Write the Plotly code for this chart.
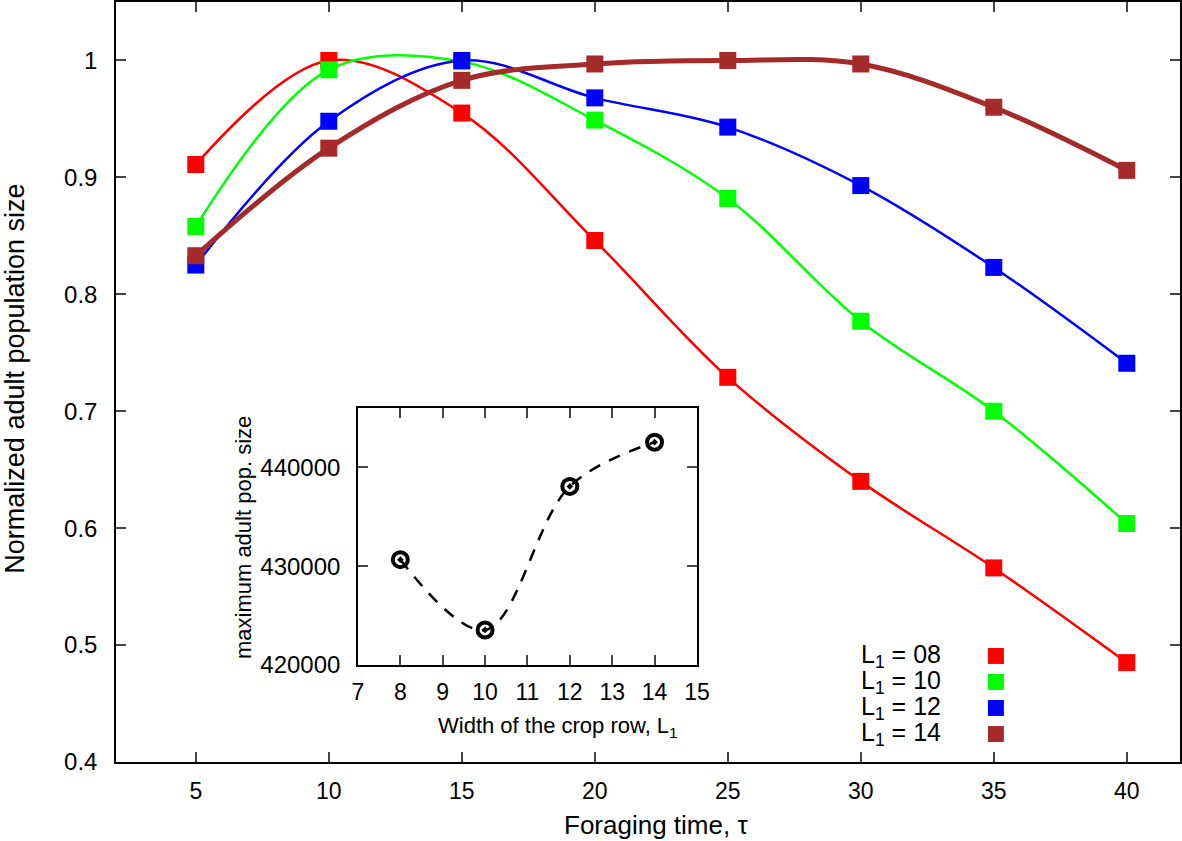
import plotly.graph_objects as go

# ---- data ----
tau = [5, 10, 15, 20, 25, 30, 35, 40]
pop_L08 = [0.911, 1.000, 0.955, 0.846, 0.729, 0.640, 0.566, 0.485]
pop_L10 = [0.858, 0.992, 0.999, 0.949, 0.882, 0.777, 0.700, 0.604]
pop_L12 = [0.825, 0.948, 1.000, 0.968, 0.943, 0.893, 0.823, 0.741]
pop_L14 = [0.833, 0.925, 0.983, 0.997, 1.000, 0.997, 0.960, 0.906]
series_labels = ["L<sub>1</sub> = 08", "L<sub>1</sub> = 10", "L<sub>1</sub> = 12", "L<sub>1</sub> = 14"]
series_colors = ["#ff0000", "#00ff00", "#0000ff", "#a52a2a"]
series_widths = [2.5, 2.5, 2.5, 5]

crop_width = [8, 10, 12, 14]
max_pop = [430660, 423550, 438070, 442540]

x_ticks = [5, 10, 15, 20, 25, 30, 35, 40]
y_ticks = [0.4, 0.5, 0.6, 0.7, 0.8, 0.9, 1.0]
y_ticktext = ["0.4", "0.5", "0.6", "0.7", "0.8", "0.9", "1"]
inset_x_ticks = [7, 8, 9, 10, 11, 12, 13, 14, 15]
inset_y_ticks = [420000, 430000, 440000]

FONT = "Liberation Sans, Arial, Helvetica, sans-serif"

fig = go.Figure()
all_series = [pop_L08, pop_L10, pop_L12, pop_L14]
for vals, name, col, w in zip(all_series, series_labels, series_colors, series_widths):
    fig.add_trace(go.Scatter(
        x=tau, y=vals, name=name, mode="lines+markers",
        line=dict(color=col, width=w, shape="spline", smoothing=1.0),
        marker=dict(symbol="square", size=17, color=col),
        xaxis="x", yaxis="y", showlegend=False))

fig.add_trace(go.Scatter(
    x=crop_width, y=max_pop, mode="lines+markers",
    line=dict(color="black", width=2.5, dash="12px,10px", shape="spline", smoothing=1.0),
    marker=dict(symbol="circle-open-dot", size=15, color="black", line=dict(width=4, color="black")),
    xaxis="x2", yaxis="y2", showlegend=False))

axis_common = dict(ticks="inside", ticklen=10, tickwidth=1.5, showline=True, linewidth=1.5,
                   linecolor="black", mirror="allticks", showgrid=False, zeroline=False,
                   automargin=False)

fig.update_layout(
    width=1182, height=841,
    margin=dict(l=116, r=2, t=2, b=79),
    plot_bgcolor="white", paper_bgcolor="white",
    font=dict(family=FONT, color="black"),
    xaxis=dict(range=[2, 42], tickvals=x_ticks, tickfont=dict(size=23),
               ticklabelstandoff=8, **axis_common),
    yaxis=dict(range=[0.4, 1.05], tickvals=y_ticks, ticktext=y_ticktext,
               tickfont=dict(size=24), ticklabelstandoff=12, **axis_common),
    xaxis2=dict(domain=[0.2274, 0.546], anchor="y2", range=[7, 15], tickvals=inset_x_ticks,
                tickfont=dict(size=23), ticklabelstandoff=6, **axis_common),
    yaxis2=dict(domain=[0.1276, 0.4658], anchor="x2", range=[420000, 446000],
                tickvals=inset_y_ticks, tickformat="d", tickfont=dict(size=24),
                ticklabelstandoff=11, **axis_common),
)

# axis titles as annotations for exact placement
fig.add_annotation(x=0.5075, y=-0.083, xref="paper", yref="paper", text="Foraging time, τ",
                   showarrow=False, xanchor="center", yanchor="middle",
                   font=dict(size=26, family=FONT, color="black"))
fig.add_annotation(x=-0.0945, y=0.505, xref="paper", yref="paper",
                   text="Normalized adult population size", textangle=-90,
                   showarrow=False, xanchor="center", yanchor="middle",
                   font=dict(size=27, family=FONT, color="black"))
fig.add_annotation(x=0.4154, y=0.046, xref="paper", yref="paper",
                   text="Width of the crop row, L<sub>1</sub>",
                   showarrow=False, xanchor="center", yanchor="middle",
                   font=dict(size=22, family=FONT, color="black"))
fig.add_annotation(x=0.1194, y=0.2947, xref="paper", yref="paper",
                   text="maximum adult pop. size", textangle=-90,
                   showarrow=False, xanchor="center", yanchor="middle",
                   font=dict(size=22, family=FONT, color="black"))

# legend (text on the left, square swatch on the right, as in the reference)
legend_y = [0.1395, 0.1053, 0.0711, 0.0368]
for lab, col, yy in zip(series_labels, series_colors, legend_y):
    fig.add_annotation(
        x=0.777, y=yy, xref="paper", yref="paper", text=lab, showarrow=False,
        xanchor="right", yanchor="middle", font=dict(size=25, family=FONT, color="black"))
    fig.add_shape(
        type="rect", xref="paper", yref="paper",
        x0=0.827 - 0.0075, x1=0.827 + 0.0075, y0=yy - 0.0105, y1=yy + 0.0105,
        fillcolor=col, line=dict(width=0))

fig.write_html("out.html", config={"displayModeBar": False},
               post_script="document.body.style.margin='0';document.body.style.padding='0';")
